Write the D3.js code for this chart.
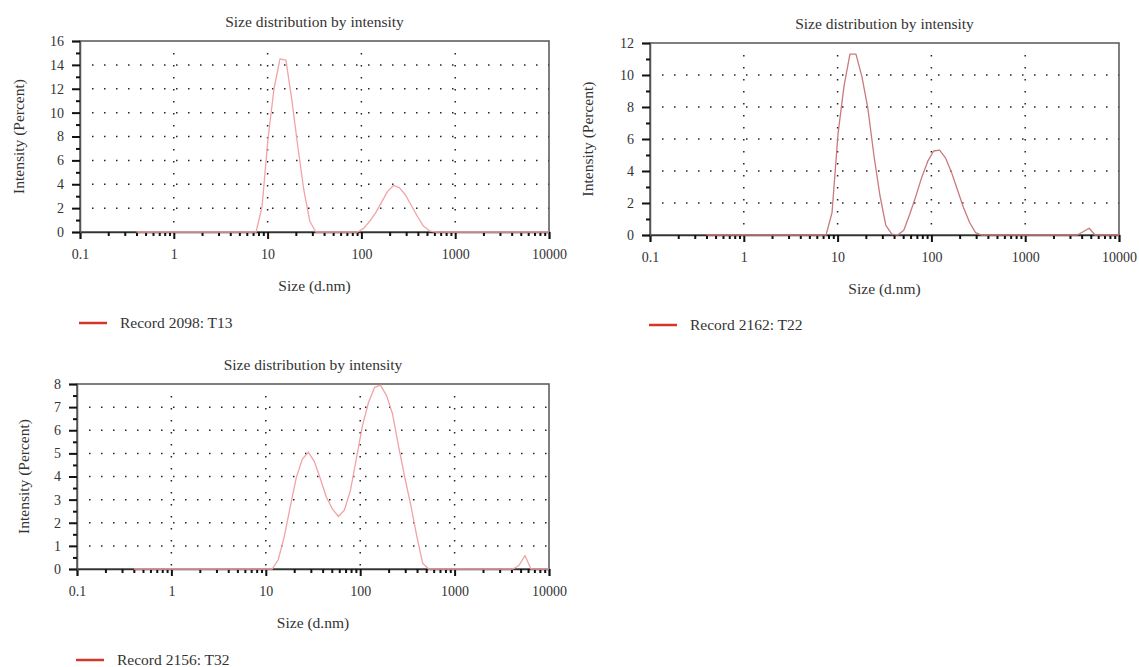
<!DOCTYPE html>
<html>
<head>
<meta charset="utf-8">
<script src="https://cdn.jsdelivr.net/npm/d3@7"></script>
<style>
	html, body { margin: 0; padding: 0; background: #fff; }
	svg { display: block; font-family: "Liberation Serif", "Times New Roman", serif; }
</style>
</head>
<body>
<svg id="chart" width="1139" height="667"></svg>
<script>

// Malvern size classes (d.nm), shared by every record
const SIZES = [
	0.4000, 0.4632, 0.5365, 0.6213, 0.7195, 0.8332, 0.9649, 1.117, 1.294, 1.499,
	1.736, 2.010, 2.328, 2.696, 3.122, 3.615, 4.187, 4.849, 5.615, 6.503,
	7.531, 8.721, 10.10, 11.70, 13.54, 15.69, 18.17, 21.04, 24.36, 28.21,
	32.67, 37.84, 43.82, 50.75, 58.77, 68.06, 78.82, 91.28, 105.7, 122.4,
	141.8, 164.2, 190.1, 220.2, 255.0, 295.3, 342.0, 396.1, 458.7, 531.2,
	615.1, 712.4, 825.0, 955.4, 1106, 1281, 1484, 1718, 1990, 2305,
	2669, 3091, 3580, 4145, 4801, 5560, 6439, 7456, 8635, 10000
];

// intensity (percent) per size class
const INTENSITY_T13 = [
	0, 0, 0, 0, 0, 0, 0, 0, 0, 0,
	0, 0, 0, 0, 0, 0, 0, 0, 0, 0,
	0, 2.1, 7.8, 12.0, 14.5, 14.4, 11.0, 7.1, 3.5, 0.9,
	0, 0, 0, 0, 0, 0, 0, 0, 0.3, 0.9,
	1.6, 2.5, 3.4, 3.9, 3.7, 3.1, 2.2, 1.3, 0.5, 0.1,
	0, 0, 0, 0, 0, 0, 0, 0, 0, 0,
	0, 0, 0, 0, 0, 0, 0, 0, 0, 0
];

const INTENSITY_T22 = [
	0, 0, 0, 0, 0, 0, 0, 0, 0, 0,
	0, 0, 0, 0, 0, 0, 0, 0, 0, 0,
	0, 1.4, 6.3, 9.3, 11.3, 11.3, 9.9, 7.9, 5.0, 2.5,
	0.6, 0.05, 0, 0.3, 1.3, 2.4, 3.6, 4.6, 5.25, 5.3,
	4.8, 3.9, 2.8, 1.7, 0.8, 0.15, 0, 0, 0, 0,
	0, 0, 0, 0, 0, 0, 0, 0, 0, 0,
	0, 0, 0, 0.2, 0.42, 0, 0, 0, 0, 0
];

const INTENSITY_T32 = [
	0, 0, 0, 0, 0, 0, 0, 0, 0, 0,
	0, 0, 0, 0, 0, 0, 0, 0, 0, 0,
	0, 0, 0, 0, 0.4, 1.4, 2.7, 3.95, 4.75, 5.05,
	4.65, 3.9, 3.1, 2.6, 2.27, 2.55, 3.4, 4.8, 6.2, 7.2,
	7.85, 7.95, 7.5, 6.7, 5.3, 4.0, 2.8, 1.45, 0.25, 0,
	0, 0, 0, 0, 0, 0, 0, 0, 0, 0,
	0, 0, 0, 0, 0.15, 0.58, 0, 0, 0, 0
];

const X_TICKS = [0.1, 1, 10, 100, 1000, 10000];
const X_MINOR = [0.1, 1, 10, 100, 1000].flatMap(d => [2, 3, 4, 5, 6, 7, 8, 9].map(m => d * m));
const X_GRID = [1, 10, 100, 1000];

const TITLE = 'Size distribution by intensity',
	X_LABEL = 'Size (d.nm)',
	Y_LABEL = 'Intensity (Percent)';

const LEGEND_LABELS = ['Record 2098: T13', 'Record 2162: T22', 'Record 2156: T32'];

let svg = d3.select('#chart');

const panels = [
	{ left: 80, top: 41, right: 549, bottom: 232, yMax: 16, yStep: 2, yMinor: 1, yLabelOff: 61.5,
		values: INTENSITY_T13, color: '#f2a3a6', label: LEGEND_LABELS[0], legendX: 79, legendY: 323 },
	{ left: 650, top: 43, right: 1119, bottom: 235, yMax: 12, yStep: 2, yMinor: 1, yLabelOff: 62,
		values: INTENSITY_T22, color: '#c97a7d', label: LEGEND_LABELS[1], legendX: 649, legendY: 325 },
	{ left: 77, top: 384, right: 549, bottom: 569, yMax: 8, yStep: 1, yMinor: 0.5, yLabelOff: 53,
		values: INTENSITY_T32, color: '#f2a3a6', label: LEGEND_LABELS[2], legendX: 76, legendY: 660 }
];

panels.forEach((p, i) => drawPanel(p, i));

function drawPanel(p, idx) {

	let x = d3.scaleLog().domain([0.1, 10000]).range([p.left, p.right]),
		y = d3.scaleLinear().domain([0, p.yMax]).range([p.bottom, p.top]),
		g = svg.append('g').attr('class', 'panel-' + idx),
		yTicks = d3.range(0, p.yMax + 0.001, p.yStep),
		yMinorTicks = d3.range(0, p.yMax + 0.001, p.yMinor).filter(v => yTicks.indexOf(v) < 0),
		cx = (p.left + p.right) / 2;

	// dotted grid
	g.append('g').selectAll('line')
		.data(yTicks.filter(v => v > 0 && v < p.yMax))
		.join('line')
		.attr('x1', p.left + 12)
		.attr('x2', p.right)
		.attr('y1', d => y(d))
		.attr('y2', d => y(d))
		.attr('stroke', '#222')
		.attr('stroke-width', 1.5)
		.attr('stroke-dasharray', '1.5 10.5');

	g.append('g').selectAll('line')
		.data(X_GRID)
		.join('line')
		.attr('x1', d => x(d))
		.attr('x2', d => x(d))
		.attr('y1', p.top + 12)
		.attr('y2', p.bottom)
		.attr('stroke', '#222')
		.attr('stroke-width', 1.5)
		.attr('stroke-dasharray', '1.5 10.5');

	// frame
	g.append('rect')
		.attr('x', p.left)
		.attr('y', p.top)
		.attr('width', p.right - p.left)
		.attr('height', p.bottom - p.top)
		.attr('fill', 'none')
		.attr('stroke', '#555')
		.attr('stroke-width', 1.5);

	// x axis: decade ticks + log minors
	let xAxis = g.append('g')
		.attr('transform', 'translate(0,' + p.bottom + ')')
		.call(d3.axisBottom(x).tickValues(X_TICKS).tickSize(7).tickPadding(10).tickFormat(d3.format('~g')));

	g.append('g')
		.attr('transform', 'translate(0,' + p.bottom + ')')
		.call(d3.axisBottom(x).tickValues(X_MINOR).tickSize(4).tickFormat(''))
		.call(a => a.selectAll('line').attr('stroke', '#111').attr('stroke-width', 2))
		.call(a => a.select('.domain').remove());

	xAxis.select('.domain').attr('stroke', '#333').attr('stroke-width', 1.5);
	xAxis.selectAll('.tick line').attr('stroke', '#111').attr('stroke-width', 2);

	// y axis
	let yAxis = g.append('g')
		.attr('transform', 'translate(' + p.left + ',0)')
		.call(d3.axisLeft(y).tickValues(yTicks).tickSize(8).tickPadding(8).tickFormat(d3.format('d')));

	g.append('g')
		.attr('transform', 'translate(' + p.left + ',0)')
		.call(d3.axisLeft(y).tickValues(yMinorTicks).tickSize(4).tickFormat(''))
		.call(a => a.selectAll('line').attr('stroke', '#111').attr('stroke-width', 2))
		.call(a => a.select('.domain').remove());

	yAxis.select('.domain').attr('stroke', '#555').attr('stroke-width', 1.5);
	yAxis.selectAll('.tick line').attr('stroke', '#111').attr('stroke-width', 2);

	[xAxis, yAxis].forEach(a => a.selectAll('.tick text')
		.attr('fill', '#333')
		.style('font-family', '"Liberation Serif", serif')
		.style('font-size', '14px'));

	// distribution curve
	let line = d3.line()
		.x((d, i) => x(SIZES[i]))
		.y(d => y(d));

	g.append('path')
		.datum(p.values)
		.attr('d', line)
		.attr('fill', 'none')
		.attr('stroke', p.color)
		.attr('stroke-width', 1.3)
		.attr('stroke-linejoin', 'round');

	// labels
	g.append('text')
		.attr('x', cx)
		.attr('y', p.top - 14)
		.attr('text-anchor', 'middle')
		.attr('fill', '#333')
		.style('font-size', '15.5px')
		.text(TITLE);

	g.append('text')
		.attr('x', cx)
		.attr('y', p.bottom + 59)
		.attr('text-anchor', 'middle')
		.attr('fill', '#333')
		.style('font-size', '15.5px')
		.text(X_LABEL);

	g.append('text')
		.attr('transform', 'translate(' + (p.left - p.yLabelOff) + ',' + ((p.top + p.bottom) / 2) + ') rotate(-90)')
		.attr('text-anchor', 'middle')
		.attr('dy', '0.35em')
		.attr('fill', '#333')
		.style('font-size', '15.5px')
		.text(Y_LABEL);

	// legend
	g.append('line')
		.attr('x1', p.legendX)
		.attr('x2', p.legendX + 28)
		.attr('y1', p.legendY)
		.attr('y2', p.legendY)
		.attr('stroke', '#d4362a')
		.attr('stroke-width', 2.5);

	g.append('text')
		.attr('x', p.legendX + 41)
		.attr('y', p.legendY)
		.attr('dy', '0.32em')
		.attr('fill', '#333')
		.style('font-size', '15.5px')
		.text(p.label);

}

</script>
</body>
</html>
